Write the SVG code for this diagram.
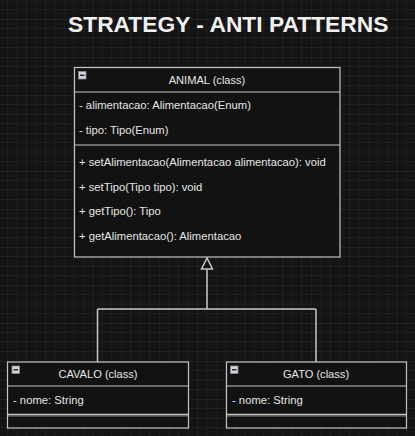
<svg xmlns="http://www.w3.org/2000/svg" width="415" height="436" viewBox="0 0 415 436">
<style>
.box{fill:#121212;stroke:#c4c4c4;stroke-width:1.2}
.sep{stroke:#c4c4c4;stroke-width:1.2;fill:none}
.t{font-family:"Liberation Sans",Arial,sans-serif;font-size:11.25px;fill:#e6e6e6}
.h{font-family:"Liberation Sans",Arial,sans-serif;font-size:11.1px;fill:#e6e6e6;text-anchor:middle}
.title{font-family:"Liberation Sans",Arial,sans-serif;font-size:22.8px;font-weight:bold;fill:#f0f0f0}
.icon{fill:#d4d4e0;stroke:#8a8a94;stroke-width:0.8}
.minus{stroke:#202020;stroke-width:1.4}
.conn{stroke:#c8c8c8;stroke-width:1.5;fill:none}
</style>
<defs>
<pattern id="grid" width="38" height="38" patternUnits="userSpaceOnUse" patternTransform="translate(7.3,19)">
<rect width="38" height="38" fill="#141414"/>
<path d="M9.5 0V38M19 0V38M28.5 0V38M0 9.5H38M0 19H38M0 28.5H38" stroke="#1f1f1f" stroke-width="1"/>
<path d="M0 0V38M0 0H38" stroke="#2e2e2e" stroke-width="1"/>
</pattern>
</defs>
<rect width="415" height="436" fill="url(#grid)"/>
<text class="title" x="68" y="32">STRATEGY - ANTI PATTERNS</text>
<g id="connectors">
<path class="conn" d="M207 269V309M97.5 309H316M97.5 309V362M316 309V362"/>
<path d="M207 258L201.5 269H212.5Z" fill="#141414" stroke="#c8c8c8" stroke-width="1.5"/>
</g>
<g id="animal">
<rect class="box" x="74.5" y="67.5" width="265.5" height="189.5"/>
<line class="sep" x1="74.5" y1="92" x2="340" y2="92"/>
<line class="sep" x1="74.5" y1="145" x2="340" y2="145"/>
<rect class="icon" x="78.5" y="71.5" width="7.5" height="7.5"/>
<line class="minus" x1="80" y1="75.3" x2="84.5" y2="75.3"/>
<text class="h" x="207" y="84">ANIMAL (class)</text>
<text class="t" x="79" y="109">- alimentacao: Alimentacao(Enum)</text>
<text class="t" x="79" y="134">- tipo: Tipo(Enum)</text>
<text class="t" x="79" y="166">+ setAlimentacao(Alimentacao alimentacao): void</text>
<text class="t" x="79" y="190.5">+ setTipo(Tipo tipo): void</text>
<text class="t" x="79" y="215">+ getTipo(): Tipo</text>
<text class="t" x="79" y="240">+ getAlimentacao(): Alimentacao</text>
</g>
<g id="cavalo">
<rect class="box" x="7.5" y="362" width="181" height="66"/>
<line class="sep" x1="7.5" y1="386" x2="188.5" y2="386"/>
<line class="sep" x1="7.5" y1="414.3" x2="188.5" y2="414.3"/>
<line class="sep" x1="7.5" y1="415.8" x2="188.5" y2="415.8" stroke-opacity="0.6"/>
<rect class="icon" x="12" y="366" width="7.5" height="7.5"/>
<line class="minus" x1="13.5" y1="369.8" x2="18" y2="369.8"/>
<text class="h" x="98" y="378">CAVALO (class)</text>
<text class="t" x="13" y="403.5">- nome: String</text>
</g>
<g id="gato">
<rect class="box" x="226.5" y="362" width="180" height="66"/>
<line class="sep" x1="226.5" y1="386" x2="406.5" y2="386"/>
<line class="sep" x1="226.5" y1="414.3" x2="406.5" y2="414.3"/>
<line class="sep" x1="226.5" y1="415.8" x2="406.5" y2="415.8" stroke-opacity="0.6"/>
<rect class="icon" x="230.5" y="366" width="7.5" height="7.5"/>
<line class="minus" x1="232" y1="369.8" x2="236.5" y2="369.8"/>
<text class="h" x="316" y="378">GATO (class)</text>
<text class="t" x="232" y="403.5">- nome: String</text>
</g>
</svg>
